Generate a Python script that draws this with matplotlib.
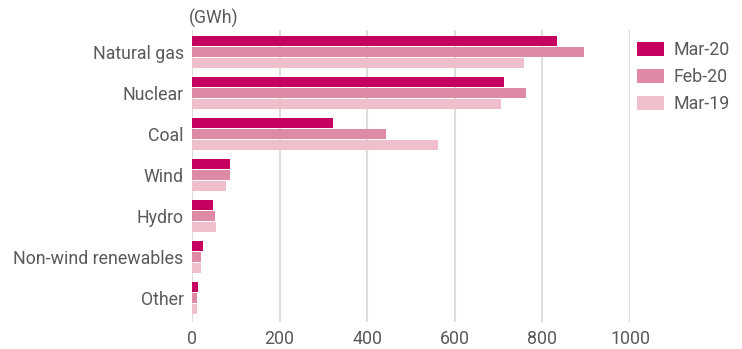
import matplotlib
matplotlib.use("Agg")
import matplotlib.pyplot as plt
from matplotlib.patches import Patch
import numpy as np

categories = ["Natural gas", "Nuclear", "Coal", "Wind", "Hydro", "Non-wind renewables", "Other"]
series_names = ["Mar-20", "Feb-20", "Mar-19"]
mar20 = [834, 713, 322, 87, 48, 25, 14]
feb20 = [894, 763, 443, 87, 53, 21, 12]
mar19 = [759, 706, 562, 78, 55, 21, 12]
colors = ["#C50060", "#DE8AA4", "#EFBFCB"]
xticks = [0, 200, 400, 600, 800, 1000]

plt.rcParams['font.family'] = ['Roboto', 'DejaVu Sans']
txt = "#5A5A5A"
fs = 12.8

fig = plt.figure(figsize=(7.42, 3.49), dpi=100)
W, H = 742, 349
ax = fig.add_axes([192 / W, 1 - 322 / H, 438 / W, 292 / H])

y = np.arange(len(categories))
h = 0.255
step = 0.27
for i, (vals, c) in enumerate(zip([mar20, feb20, mar19], colors)):
    ax.barh(y + (i - 1) * step, vals, height=h, color=c, zorder=3)

ax.set_xlim(0, 1000)
ax.set_ylim(6.585, -0.54)
ax.set_xticks(xticks)
ax.set_xticklabels([str(t) for t in xticks], fontsize=fs, color=txt)
ax.set_yticks(y)
ax.set_yticklabels(categories, fontsize=fs, color=txt)
ax.tick_params(length=0, pad=6)
ax.tick_params(axis='x', pad=6)
for s in ax.spines.values():
    s.set_visible(False)
ax.grid(axis='x', color="#DDDDDD", linewidth=1.5, zorder=0)
ax.set_axisbelow(True)

fig.text(189 / W, 1 - 18 / H, "(GWh)", fontsize=fs, color=txt, va='center', ha='left')

handles = [Patch(facecolor=c, edgecolor='none') for c in colors]
fig.legend(handles, series_names, loc='upper left', bbox_to_anchor=(630 / W, 1 - 34 / H),
           frameon=False, fontsize=fs, labelcolor=txt, handlelength=1.5, handleheight=0.85,
           handletextpad=0.55, labelspacing=0.5, borderaxespad=0)

fig.savefig("out.png", dpi=100)
